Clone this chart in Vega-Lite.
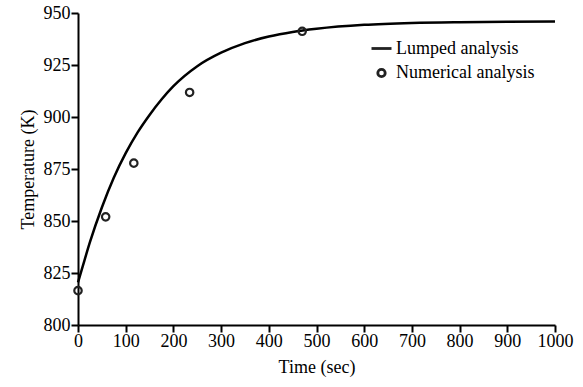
{
  "$schema": "https://vega.github.io/schema/vega-lite/v6.json",
  "width": 477,
  "height": 312,
  "autosize": "none",
  "padding": {"left": 78, "top": 13, "right": 28, "bottom": 62},
  "background": "white",
  "config": {
    "view": {"stroke": null},
    "font": "Liberation Serif",
    "axis": {
      "grid": false,
      "domainColor": "black",
      "domainWidth": 2,
      "tickColor": "black",
      "tickWidth": 2,
      "tickSize": 7,
      "labelFont": "Liberation Serif, serif",
      "labelFontSize": 18,
      "labelColor": "black",
      "labelOverlap": false,
      "labelFlush": false,
      "titleFont": "Liberation Serif, serif",
      "titleFontSize": 18,
      "titleFontWeight": "normal",
      "titleColor": "black"
    }
  },
  "datasets": {
    "lumped": [
      {"time": 0, "temp": 820.5},
      {"time": 10, "temp": 828.3},
      {"time": 25, "temp": 839.8},
      {"time": 50, "temp": 856.5},
      {"time": 75, "temp": 870.8},
      {"time": 100, "temp": 882.6},
      {"time": 125, "temp": 892.6},
      {"time": 150, "temp": 901.0},
      {"time": 175, "temp": 908.4},
      {"time": 200, "temp": 914.8},
      {"time": 250, "temp": 924.4},
      {"time": 300, "temp": 930.9},
      {"time": 350, "temp": 935.5},
      {"time": 400, "temp": 938.7},
      {"time": 450, "temp": 940.9},
      {"time": 500, "temp": 942.4},
      {"time": 600, "temp": 944.3},
      {"time": 700, "temp": 945.2},
      {"time": 800, "temp": 945.6},
      {"time": 900, "temp": 945.8},
      {"time": 1000, "temp": 945.9}
    ],
    "numerical": [
      {"time": 0, "temp": 816.5, "series": "Numerical analysis"},
      {"time": 58, "temp": 852, "series": "Numerical analysis"},
      {"time": 117, "temp": 877.8, "series": "Numerical analysis"},
      {"time": 234, "temp": 911.8, "series": "Numerical analysis"},
      {"time": 470, "temp": 941.2, "series": "Numerical analysis"}
    ]
  },
  "layer": [
    {
      "data": {"name": "lumped"},
      "mark": {"type": "line", "color": "black", "strokeWidth": 2.5, "interpolate": "monotone"},
      "encoding": {
        "x": {
          "field": "time", "type": "quantitative",
          "scale": {"domain": [0, 1000], "nice": false},
          "axis": {"values": [0,100,200,300,400,500,600,700,800,900,1000], "format": "d", "title": "Time (sec)", "labelPadding": 0, "titlePadding": 8}
        },
        "y": {
          "field": "temp", "type": "quantitative",
          "scale": {"domain": [800, 950], "nice": false, "zero": false},
          "axis": {"values": [800,825,850,875,900,925,950], "format": "d", "title": "Temperature (K)", "labelPadding": 1, "titlePadding": 6}
        }
      }
    },
    {
      "data": {"name": "numerical"},
      "mark": {"type": "point", "filled": false, "color": "#222222", "opacity": 1, "strokeWidth": 2.2, "clip": false},
      "encoding": {
        "x": {"field": "time", "type": "quantitative"},
        "y": {"field": "temp", "type": "quantitative"},
        "shape": {
          "field": "series", "type": "nominal",
          "scale": {"domain": ["Lumped analysis", "Numerical analysis"], "range": ["stroke", "circle"]},
          "legend": {
            "title": null,
            "orient": "none",
            "legendX": 292,
            "legendY": 24,
            "labelFont": "Liberation Serif, serif",
            "labelFontSize": 18,
            "labelColor": "black",
            "labelOffset": 3,
            "rowPadding": 5,
            "symbolStrokeColor": "black",
            "symbolOpacity": 1,
            "symbolStrokeWidth": 2.8
          }
        },
        "size": {
          "field": "series", "type": "nominal",
          "scale": {"domain": ["Lumped analysis", "Numerical analysis"], "range": [400, 55]}
        }
      }
    }
  ]
}
